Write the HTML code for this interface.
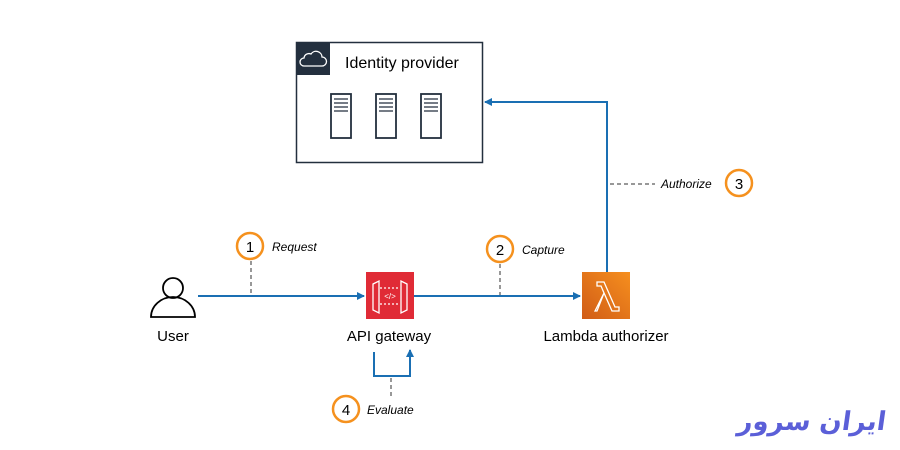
<!DOCTYPE html>
<html><head><meta charset="utf-8"><style>
html,body{margin:0;padding:0;background:#fff;width:900px;height:450px;overflow:hidden;position:relative}
svg text{font-family:"Liberation Sans",sans-serif}
#logo{position:absolute;right:14px;top:404px;font-family:"DejaVu Sans",sans-serif;font-weight:bold;font-size:26px;color:#5b5fd8;direction:rtl;line-height:36px;white-space:nowrap;transform:skewX(-8deg)}
</style></head><body>
<svg width="900" height="450" viewBox="0 0 900 450" xmlns="http://www.w3.org/2000/svg">
<defs>
<marker id="a" markerWidth="8" markerHeight="8" refX="7" refY="4" orient="auto" markerUnits="userSpaceOnUse">
<path d="M0,0 L8,4 L0,8 Z" fill="#1a6fb3"/></marker>
<linearGradient id="g" x1="0" y1="1" x2="1" y2="0"><stop offset="0" stop-color="#d05c17"/><stop offset="1" stop-color="#f68f1e"/></linearGradient>
</defs>
<rect x="296.5" y="42.5" width="186" height="120" fill="#fff" stroke="#232f3e" stroke-width="1.5"/>
<rect x="296" y="42" width="34" height="33" fill="#232f3e"/>
<path d="M304,66 h18 a4.5,4.5 0 0 0 0,-9 a6,6 0 0 0 -11,-3 a5,5 0 0 0 -7,4 a4,4 0 0 0 0,8z" fill="none" stroke="#fff" stroke-width="1.3"/>
<text x="345" y="68" font-size="16" fill="#000">Identity provider</text>
<g fill="none" stroke="#232f3e" stroke-width="1.8">
<rect x="331" y="94" width="20" height="44"/><rect x="376" y="94" width="20" height="44"/><rect x="421" y="94" width="20" height="44"/>
</g>
<g stroke="#232f3e" stroke-width="1.3">
<path d="M334,99h14M334,103h14M334,107h14M334,111h14"/>
<path d="M379,99h14M379,103h14M379,107h14M379,111h14"/>
<path d="M424,99h14M424,103h14M424,107h14M424,111h14"/>
</g>
<circle cx="173" cy="288" r="10" fill="none" stroke="#000" stroke-width="1.8"/>
<path d="M151,317 a22,20 0 0 1 44,0 z" fill="none" stroke="#000" stroke-width="1.8"/>
<text x="173" y="341" font-size="15" text-anchor="middle" fill="#000">User</text>
<rect x="366" y="272" width="48" height="47" fill="#e02b36"/>
<g fill="none" stroke="#fff" stroke-width="1.3">
<path d="M373,284 l6,-3 v32 l-6,-3z M407,284 l-6,-3 v32 l6,-3z"/>
<path d="M380,288h20M380,304h20" stroke-dasharray="2 2"/>
</g>
<text x="390" y="299" font-size="8" fill="#fff" text-anchor="middle">&lt;/&gt;</text>
<text x="389" y="341" font-size="15" text-anchor="middle" fill="#000">API gateway</text>
<rect x="582" y="272" width="48" height="47" fill="url(#g)"/>
<path d="M595,311 l9,-18 l-3,-7 h-4 v-4 h7 l11,25 h4 v4 h-7 l-8,-18 l-7,18z" fill="none" stroke="#fff" stroke-width="1.3"/>
<text x="606" y="341" font-size="15" text-anchor="middle" fill="#000">Lambda authorizer</text>
<g stroke="#1a6fb3" stroke-width="2" fill="none">
<path d="M198,296 H364" marker-end="url(#a)"/>
<path d="M414,296 H580" marker-end="url(#a)"/>
<path d="M607,272 V102 H485" marker-end="url(#a)"/>
<path d="M374,352 V376 H410 V350" marker-end="url(#a)"/>
</g>
<g stroke="#777" stroke-width="1.5" stroke-dasharray="4 3" fill="none">
<path d="M251,261 V295"/><path d="M500,264 V295"/><path d="M610,184 H655"/><path d="M391,378 V398"/>
</g>
<g fill="#fff" stroke="#f5911e" stroke-width="2.5">
<circle cx="250" cy="246" r="13"/><circle cx="500" cy="249" r="13"/><circle cx="739" cy="183" r="13"/><circle cx="346" cy="409" r="13"/>
</g>
<g font-size="15" text-anchor="middle" fill="#000">
<text x="250" y="252">1</text><text x="500" y="255">2</text><text x="739" y="189">3</text><text x="346" y="415">4</text>
</g>
<g font-size="12" font-style="italic" fill="#000">
<text x="272" y="251">Request</text><text x="522" y="254">Capture</text><text x="661" y="188">Authorize</text><text x="367" y="414">Evaluate</text>
</g>
</svg>
<div id="logo">ایران سرور</div>
</body></html>
